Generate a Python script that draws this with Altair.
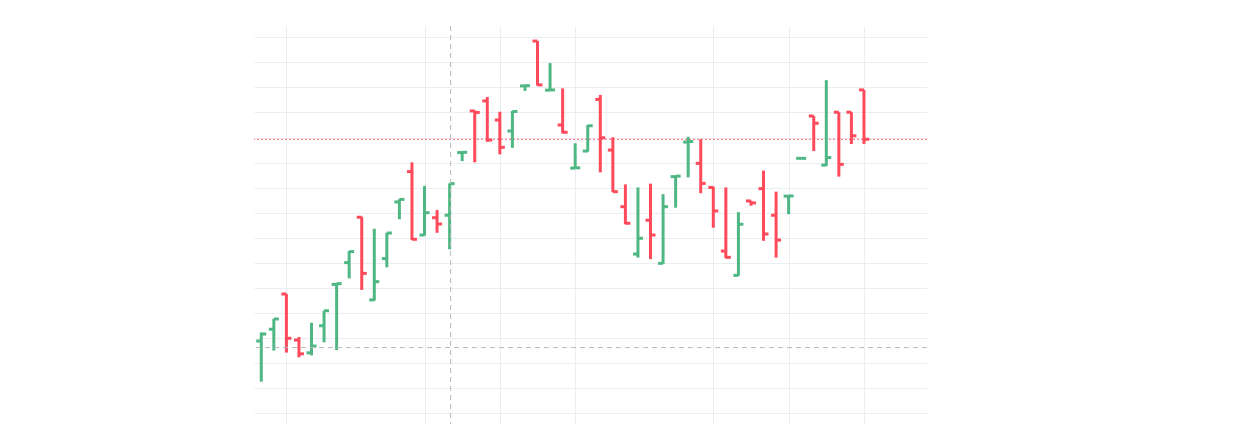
import altair as alt
import pandas as pd

# OHLC series, one entry per session
opens = [42.88, 43.35, 44.76, 42.92, 42.41, 43.49, 45.14, 46.01, 47.82, 44.52,
         46.17, 48.43, 49.64, 47.11, 47.80, 47.90, 50.40, 52.06, 52.46, 51.70,
         51.26, 53.06, 54.85, 52.89, 51.50, 49.78, 50.46, 52.52, 50.50, 48.24,
         46.35, 47.70, 45.98, 49.44, 50.82, 49.97, 49.01, 46.47, 45.50, 48.47,
         48.96, 47.90, 48.66, 50.17, 51.86, 49.90, 52.01, 52.01, 52.90]
highs = [43.22, 43.77, 44.76, 43.04, 43.61, 44.09, 45.18, 46.47, 47.84, 47.36,
         47.20, 48.54, 50.01, 49.07, 48.11, 49.17, 50.43, 52.08, 52.62, 52.03,
         52.06, 53.10, 54.85, 53.97, 52.96, 50.77, 51.50, 52.70, 51.01, 49.13,
         49.01, 49.16, 48.74, 49.48, 51.03, 50.93, 49.04, 49.01, 48.02, 48.48,
         49.68, 48.84, 48.68, 50.18, 51.86, 53.29, 52.01, 52.01, 52.90]
lows = [41.26, 42.50, 42.42, 42.23, 42.31, 42.83, 42.52, 45.38, 44.92, 44.49,
        45.82, 47.74, 46.91, 47.09, 47.20, 46.54, 50.06, 50.01, 50.83, 50.33,
        50.59, 52.86, 53.07, 52.88, 51.17, 49.77, 50.43, 49.61, 48.82, 47.54,
        46.21, 46.15, 45.96, 48.20, 49.41, 48.78, 47.40, 46.18, 45.48, 48.28,
        46.88, 46.21, 47.94, 50.16, 50.46, 49.86, 49.44, 50.74, 50.74]
closes = [43.16, 43.76, 42.99, 42.37, 42.68, 44.09, 45.17, 46.45, 45.58, 45.25,
          47.19, 48.53, 46.94, 48.00, 47.55, 49.16, 50.41, 52.00, 50.90, 50.61,
          52.04, 53.07, 53.10, 52.90, 51.21, 49.79, 51.47, 50.99, 48.84, 47.58,
          46.98, 47.11, 48.24, 49.46, 50.84, 49.17, 48.07, 46.22, 47.54, 48.39,
          47.15, 46.91, 48.67, 50.17, 51.57, 50.20, 49.93, 51.07, 50.93]

# grid positions (session index / price level)
x_grid = [2, 13, 19, 25, 36, 42, 48]
y_grid = list(range(40, 56))

# crosshair location
cross_bar = 15.08
cross_price = 42.62

GREEN = "#4fb783"
RED = "#fe4a5b"
GRID = "#e9eef3"
CROSS = "#b9b9b9"

bars = pd.DataFrame({
    "bar": list(range(len(opens))),
    "open": opens,
    "high": highs,
    "low": lows,
    "close": closes,
})
bars["dir"] = ["up" if c >= o else "down" for o, c in zip(opens, closes)]

x_scale = alt.Scale(domain=[-0.58, 53.02], nice=False, zero=False)
y_scale = alt.Scale(domain=[39.57, 55.45], nice=False, zero=False)

x_axis = alt.Axis(values=x_grid, tickCount=len(x_grid), labels=False, ticks=False,
                  domain=False, grid=True, gridColor=GRID, gridWidth=1, title=None)
y_axis = alt.Axis(values=y_grid, tickCount=len(y_grid), labels=False, ticks=False,
                  domain=False, grid=True, gridColor=GRID, gridWidth=1, title=None)

color = alt.Color("dir:N", scale=alt.Scale(domain=["up", "down"], range=[GREEN, RED]),
                  legend=None)

base = alt.Chart(bars)

stems = base.mark_rule(strokeWidth=3).encode(
    x=alt.X("bar:Q", scale=x_scale, axis=x_axis),
    y=alt.Y("low:Q", scale=y_scale, axis=y_axis),
    y2="high:Q",
    color=color,
)

open_ticks = base.mark_tick(orient="horizontal", size=5, thickness=3,
                            xOffset=-2.5, opacity=1).encode(
    x="bar:Q", y="open:Q", color=color)

close_ticks = base.mark_tick(orient="horizontal", size=5, thickness=3,
                             xOffset=2.5, opacity=1).encode(
    x="bar:Q", y="close:Q", color=color)

last_price = alt.Chart(pd.DataFrame({"price": [closes[-1]]})).mark_rule(
    color=RED, strokeWidth=1, strokeDash=[2, 2], opacity=0.85
).encode(y="price:Q")

cross_v = alt.Chart(pd.DataFrame({"bar": [cross_bar]})).mark_rule(
    color=CROSS, strokeWidth=1, strokeDash=[5, 4]
).encode(x="bar:Q")

cross_h = alt.Chart(pd.DataFrame({"price": [cross_price]})).mark_rule(
    color=CROSS, strokeWidth=1, strokeDash=[5, 4]
).encode(y="price:Q")

chart = alt.layer(
    last_price, stems, open_ticks, close_ticks, cross_v, cross_h
).properties(
    width=673,
    height=398,
    autosize=alt.AutoSizeParams(type="none"),
    padding={"left": 254, "top": 26, "right": 333, "bottom": 0},
    background="white",
).configure_view(stroke=None)

chart.save("out.html", embed_options={"renderer": "svg", "actions": False})
